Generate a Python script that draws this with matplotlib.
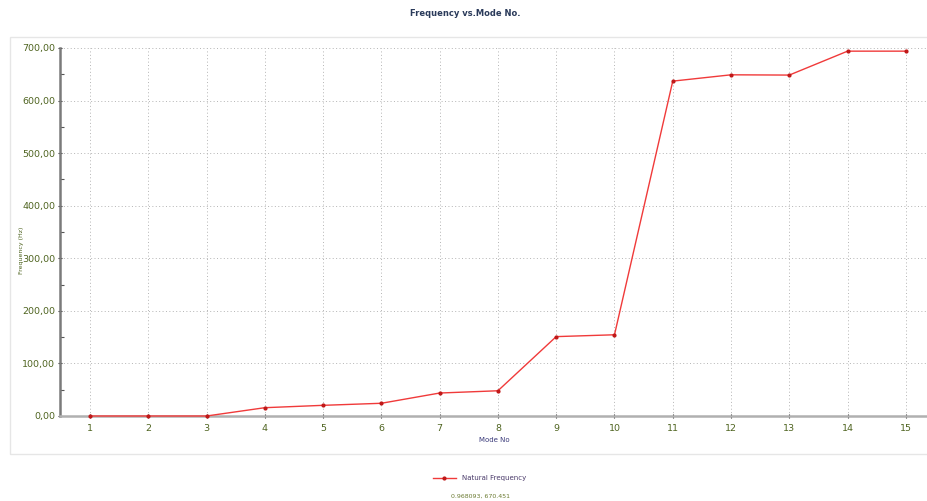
import matplotlib
matplotlib.use("Agg")
import matplotlib.pyplot as plt
from matplotlib.ticker import FuncFormatter, MultipleLocator
from matplotlib.patches import Rectangle

# Natural frequencies per mode
modes = [1, 2, 3, 4, 5, 6, 7, 8, 9, 10, 11, 12, 13, 14, 15]
frequency_hz = [0.0, 0.0, 0.0, 15.8, 20.3, 24.2, 43.7, 48.0, 151.0, 154.5,
                637.0, 649.0, 648.5, 694.0, 694.0]
y_ticks = [0, 100, 200, 300, 400, 500, 600, 700]
cursor_text = "0.968093, 670.451"

fig = plt.figure(figsize=(9.28, 5.01), dpi=100)
fig.patch.set_facecolor("white")

# faint outer frame of the chart area
fig.add_artist(Rectangle((10 / 928, 1 - 454 / 501), 930 / 928, (454 - 37) / 501,
                         transform=fig.transFigure, fill=False,
                         edgecolor="#e6e6e6", linewidth=1.0))

ax = fig.add_axes([60 / 928, 1 - 416 / 501, (928 - 60) / 928, (416 - 48) / 501])
ax.plot(modes, frequency_hz, color="#f03a3a", linewidth=1.0, marker="o",
        markersize=2.0, markerfacecolor="#c01818", markeredgecolor="#c01818",
        label="Natural Frequency", clip_on=False, zorder=3)

ax.set_xlim(0.485, 15.38)
ax.set_ylim(0, 700)
ax.set_xticks(modes)
ax.set_yticks(y_ticks)
ax.yaxis.set_minor_locator(MultipleLocator(50))
ax.yaxis.set_major_formatter(FuncFormatter(lambda v, p: f"{v:.2f}".replace(".", ",")))

label_color = "#4f6420"
ax.tick_params(axis="both", which="major", labelsize=6.8, labelcolor=label_color,
               color="#333333", length=3, width=0.8, direction="inout")
ax.tick_params(axis="y", which="minor", length=3, width=0.8, color="#555555",
               direction="in")
ax.tick_params(axis="x", pad=4)
ax.tick_params(axis="y", pad=2)

for side in ("top", "right"):
    ax.spines[side].set_visible(False)
ax.spines["left"].set_color("#7a7a7a")
ax.spines["left"].set_linewidth(1.8)
ax.spines["bottom"].set_color("#b0b0b0")
ax.spines["bottom"].set_linewidth(1.8)

ax.grid(True, which="major", linestyle=(0, (1, 2.5)), color="#b4b4b4", linewidth=0.7)
ax.set_axisbelow(True)

ax.set_xlabel("Mode No", fontsize=5, color="#3a3a7a", labelpad=3)
ax.set_ylabel("Frequency (Hz)", fontsize=4.5, color="#4f6420")
ax.yaxis.set_label_coords(-0.041, 0.45)

fig.text(465 / 928, 1 - 14 / 501, "Frequency vs.Mode No.", ha="center", va="center",
         fontsize=6, fontweight="bold", color="#2a3a5a")

fig.legend(loc="center", bbox_to_anchor=(480 / 928, 1 - 478 / 501), frameon=False,
           fontsize=5, handlelength=3.2, handletextpad=1.0, labelcolor="#4a3a6a")
fig.text(481 / 928, 1 - 496 / 501, cursor_text, ha="center", va="center",
         fontsize=4.5, color="#6a7a30")

fig.savefig("out.png", dpi=100, facecolor="white")
